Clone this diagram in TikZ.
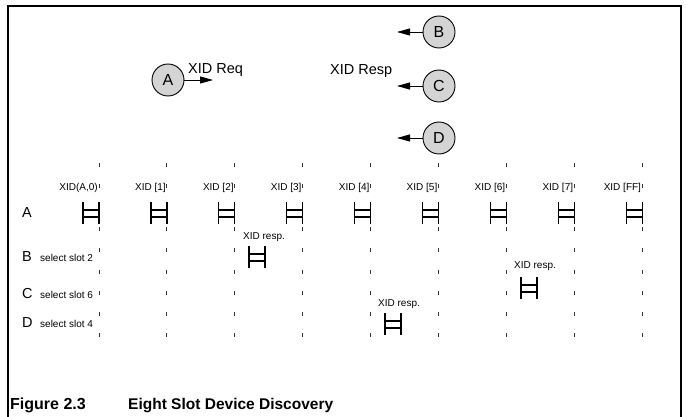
\documentclass[tikz,border=0pt]{standalone}
\usepackage{fontspec}
\setmainfont{Liberation Sans}
\usetikzlibrary{arrows.meta,positioning}
\definecolor{disc}{HTML}{D4D4D4}
\definecolor{tick}{HTML}{333333}
\tikzset{
  stn/.style={circle, draw, line width=0.9pt, fill=disc, minimum size=32pt,
              inner sep=0pt, font=\fontsize{16}{18}\selectfont},
  ar/.style={-{Triangle[length=13pt,width=7pt]}, line width=0.9pt},
  big/.style={font=\fontsize{14.5}{16}\selectfont, inner sep=0pt},
  sml/.style={font=\fontsize{10}{12}\selectfont, inner sep=0pt},
  slotln/.style={draw=tick, line width=0.9pt, dash pattern=on 4pt off 17.3pt},
  frm/.style={line width=1.2pt},
  ladder/.pic={\draw[frm] (-16,0) -- (-16,22) (0,0) -- (0,22)
                          (-16,8) -- (0,8) (-16,15) -- (0,15);},
}

\begin{document}
\begin{tikzpicture}[x=1pt, y=-1pt]
\useasboundingbox (0,0) rectangle (686,417);

% ---- frame ----
\draw[line width=2.5pt] (8,417) -- (8,6) -- (681,6) -- (681,417);

% ---- stations ----
\node[stn] (sa) at (168,80) {A};
\node[stn] (sb) at (439,32) {B};
\node[stn] (sc) at (439,86) {C};
\node[stn] (sd) at (439,138) {D};

\coordinate (reqend) at (213,80);
\coordinate (bend) at (397,32);
\coordinate (cend) at (397,86);
\coordinate (dend) at (397,138);

\draw[ar] (sa) -- (reqend);
\draw[ar] (sb) -- (bend);
\draw[ar] (sc) -- (cend);
\draw[ar] (sd) -- (dend);

\node[big, anchor=west] (req)  at (188,70) {XID Req};
\node[big, anchor=west] (resp) at (330,71) {XID Resp};

% ---- slots ----
\foreach \lbl [count=\i from 0] in {{XID(A,0)},{XID [1]},{XID [2]},{XID [3]},
    {XID [4]},{XID [5]},{XID [6]},{XID [7]},{XID [FF]}} {
  \pgfmathsetmacro\cx{99+67.9*\i}
  \draw[slotln] (\cx,163) -- (\cx,338);
  \node[sml, anchor=base east] (slot\i) at (\cx-1,190) {\lbl};
  \pic at (\cx,202) {ladder};
}

% ---- rows ----
\node[big, anchor=west] (rowa) at (22,213) {A};
\node[big, anchor=west] (rowb) at (22,257) {B};
\node[sml, anchor=west] (selb) at (40,258) {select slot 2};
\node[big, anchor=west] (rowc) at (22,294) {C};
\node[sml, anchor=west] (selc) at (40,295) {select slot 6};
\node[big, anchor=west] (rowd) at (22,323) {D};
\node[sml, anchor=west] (seld) at (40,324) {select slot 4};

% ---- responses ----
\node[sml, anchor=west] (rspb) at (243,237) {XID resp.};
\pic at (265,246) {ladder};
\node[sml, anchor=west] (rspc) at (514,266) {XID resp.};
\pic at (537,277) {ladder};
\node[sml, anchor=west] (rspd) at (378,304) {XID resp.};
\pic at (401,313) {ladder};

% ---- caption ----
\node[anchor=base west, inner sep=0pt,
      font=\fontsize{16}{18}\selectfont\bfseries] (fignum) at (10,409) {Figure 2.3};
\node[anchor=base west, inner sep=0pt,
      font=\fontsize{15.5}{18}\selectfont\bfseries] (figttl) at (128,409) {Eight Slot Device Discovery};

\end{tikzpicture}
\end{document}
